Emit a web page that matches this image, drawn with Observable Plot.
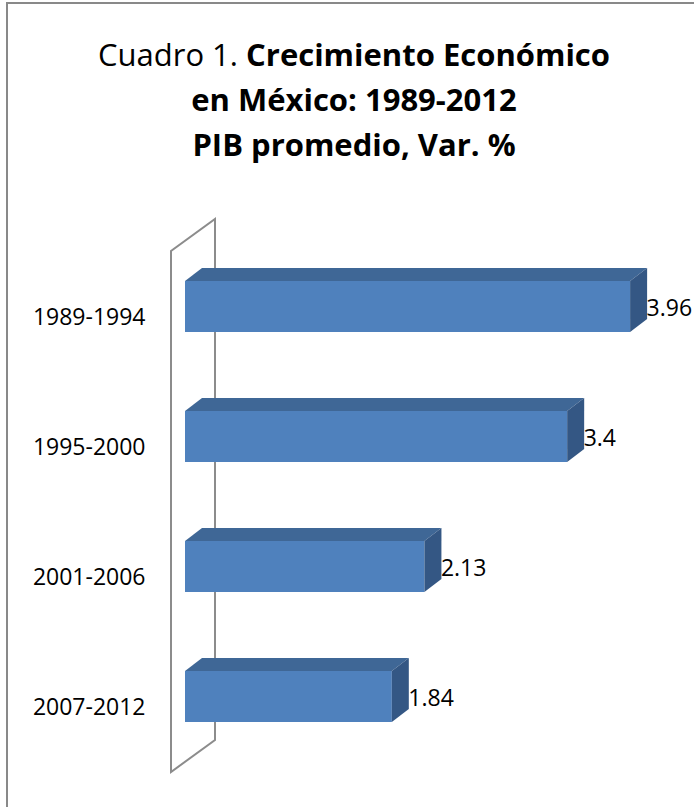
<!DOCTYPE html>
<html>
<head>
<meta charset="utf-8">
<script src="https://cdn.jsdelivr.net/npm/d3@7"></script>
<script src="https://cdn.jsdelivr.net/npm/@observablehq/plot@0.6"></script>
<style>
  html, body { margin: 0; padding: 0; background: #fff; width: 694px; height: 807px; overflow: hidden; }
  #frame { position: absolute; left: 6px; top: 2px; width: 800px; height: 900px;
           border-left: 2px solid #898989; border-top: 2px solid #898989; }
  #title { position: absolute; left: 0; top: 32px; width: 708px; text-align: center;
           font-family: "Open Sans", sans-serif; font-size: 31px; line-height: 45px; color: #000; }
  #title b { font-weight: 700; }
  #chart { position: absolute; left: 0; top: 190px; }
</style>
</head>
<body>
<div id="frame"></div>
<div id="title">Cuadro 1. <b>Crecimiento Económico</b><br><b>en México: 1989-2012</b><br><b>PIB promedio, Var. %</b></div>
<div id="chart"></div>
<script>
const periods = ["1989-1994", "1995-2000", "2001-2006", "2007-2012"];
const values = [3.96, 3.4, 2.13, 1.84];
const valueLabels = ["3.96", "3.4", "2.13", "1.84"];

const data = periods.map((p, i) => ({period: p, value: values[i], label: valueLabels[i]}));

const FRONT = "#4F81BD", TOP = "#3F6796", SIDE = "#345784", WALL = "#8C8C8C";
const DX = 17, DY = 13;           // bar depth (px)
const WDX = 44, WDY = 32;         // wall depth (px)

function wall(index, scales, values, dimensions) {
  const {x, y} = scales;
  const bw = y.bandwidth ? y.bandwidth() : 51;
  const fx = x(0) - 14;
  const top = y(periods[0]) - 30;
  const bot = y(periods[periods.length - 1]) + bw + 50;
  const g = d3.create("svg:g");
  g.append("path")
    .attr("d", `M${fx},${bot}L${fx},${top}L${fx + WDX},${top - WDY}L${fx + WDX},${bot - WDY}Z`)
    .attr("fill", "none").attr("stroke", WALL).attr("stroke-width", 2);
  return g.node();
}

function faces(index, scales) {
  const {x, y} = scales;
  const bw = y.bandwidth ? y.bandwidth() : 51;
  const g = d3.create("svg:g");
  for (const d of data) {
    const x0 = x(0), x1 = x(d.value), y0 = y(d.period), y1 = y0 + bw;
    g.append("path")
      .attr("d", `M${x0},${y0}L${x1},${y0}L${x1 + DX},${y0 - DY}L${x0 + DX},${y0 - DY}Z`)
      .attr("fill", TOP);
    g.append("path")
      .attr("d", `M${x1},${y0}L${x1 + DX},${y0 - DY}L${x1 + DX},${y1 - DY}L${x1},${y1}Z`)
      .attr("fill", SIDE);
  }
  return g.node();
}

const chart = Plot.plot({
  width: 694,
  height: 617,
  marginLeft: 185,
  marginRight: 3.2,
  marginTop: 11.2,
  marginBottom: 5.2,
  x: {domain: [0, 4.5], axis: null},
  y: {domain: periods, padding: 0.609, axis: null},
  style: {fontFamily: "'Open Sans', sans-serif", fontSize: "23px", background: "transparent", overflow: "visible", color: "#000"},
  marks: [
    wall,
    Plot.barX(data, {x: "value", y: "period", fill: FRONT}),
    faces,
    Plot.text(data, {x: "value", y: "period", text: "label", textAnchor: "start", dx: 16, dy: 2, fill: "#000", fontSize: 23}),
    Plot.axisY({tickSize: 0, tickPadding: 40, dy: 11, fontSize: 23, label: null, fill: "#000"})
  ]
});
document.getElementById("chart").appendChild(chart);
</script>
</body>
</html>
